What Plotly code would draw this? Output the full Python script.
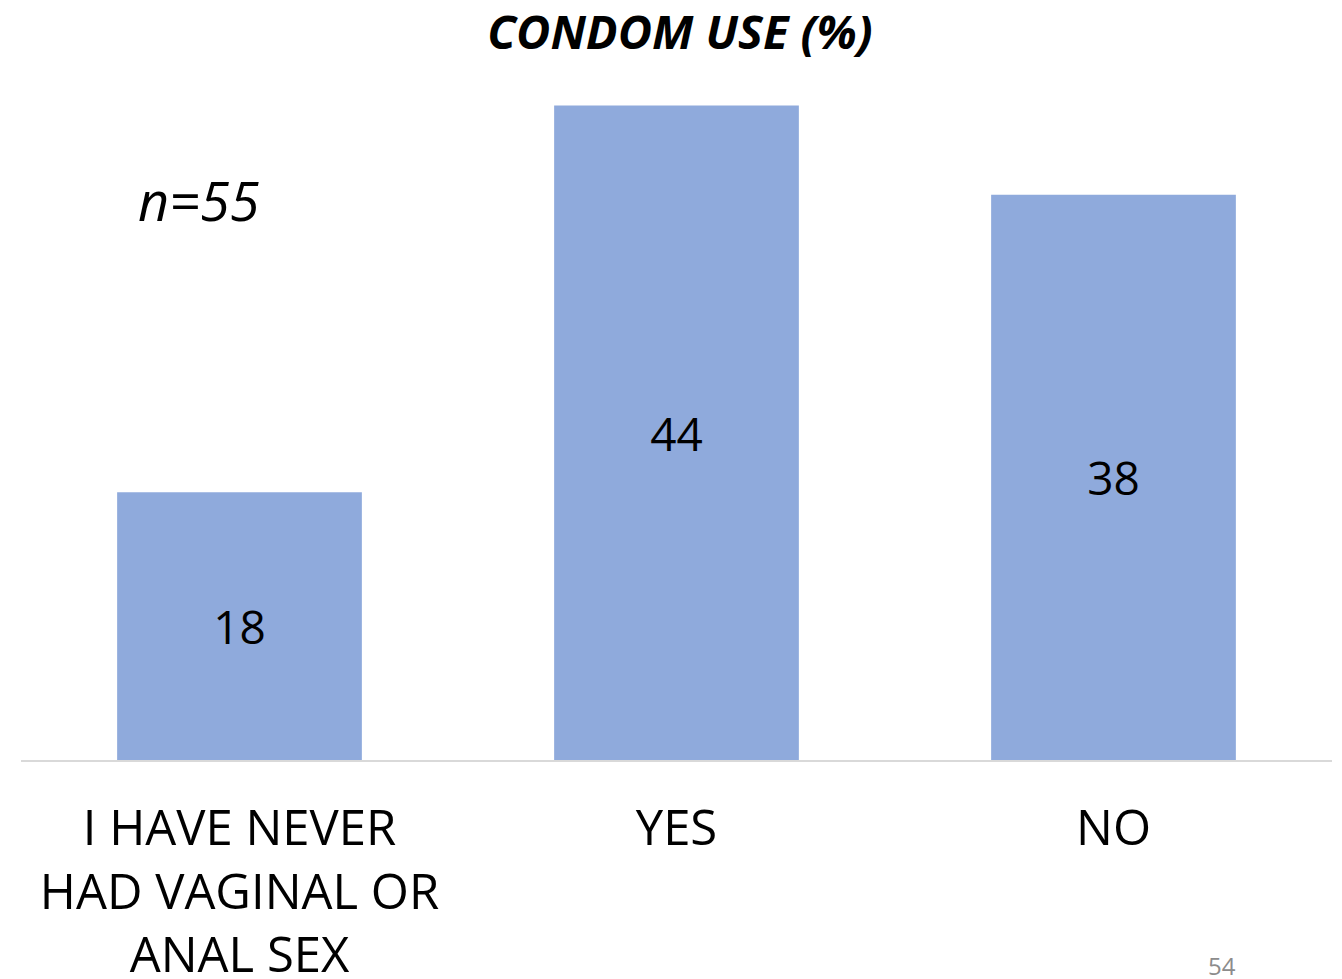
import plotly.graph_objects as go

categories = ["I HAVE NEVER<br>HAD VAGINAL OR<br>ANAL SEX", "YES", "NO"]
values = [18, 44, 38]
title_text = "CONDOM USE (%)"
note_text = "n=55"
page_number = "54"

FONT = "Open Sans"

# figure sized to compensate for the 8px default body margin of the page
W, H = 1334, 971
ML, MR, MT, MB = 13, 10, 38, 219
PW, PH = W - ML - MR, H - MT - MB


def px_to_paper(px, py):
    # page pixel -> paper coords (page has 8px offset)
    fx, fy = px - 8, py - 8
    return (fx - ML) / PW, (H - MB - fy) / PH


fig = go.Figure(go.Bar(
    x=categories,
    y=values,
    marker=dict(color="#8faadc", line=dict(width=0)),
    text=[str(v) for v in values],
    textposition="inside",
    insidetextanchor="middle",
    textfont=dict(family=FONT, size=46, color="#000000"),
    width=0.56,
))

nx, ny = px_to_paper(198, 200)
px_, py_ = px_to_paper(1222, 966)

fig.update_layout(
    width=W, height=H,
    paper_bgcolor="white", plot_bgcolor="white",
    margin=dict(l=ML, r=MR, t=MT, b=MB, autoexpand=False),
    showlegend=False,
    title=dict(text=title_text, x=(680 - 8) / W, xanchor="center", y=1 - (33 - 8) / H, yanchor="middle",
               font=dict(family=FONT, size=47, color="#000000", weight="bold", style="italic")),
    xaxis=dict(showgrid=False, showline=True, linecolor="#d9d9d9", linewidth=2,
               ticks="", tickfont=dict(family=FONT, size=49, color="#000000"),
               ticklabelstandoff=24, automargin=False),
    yaxis=dict(range=[0, 48], visible=False, showgrid=False, zeroline=False),
    annotations=[
        dict(text=note_text, xref="paper", yref="paper", x=nx, y=ny, xanchor="center", yanchor="middle",
             showarrow=False, font=dict(family=FONT, size=54, color="#000000", style="italic")),
        dict(text=page_number, xref="paper", yref="paper", x=px_, y=py_, xanchor="center",
             yanchor="middle", showarrow=False, font=dict(family=FONT, size=24, color="#8c8c8c")),
    ],
)

fig.write_html("out.html")
